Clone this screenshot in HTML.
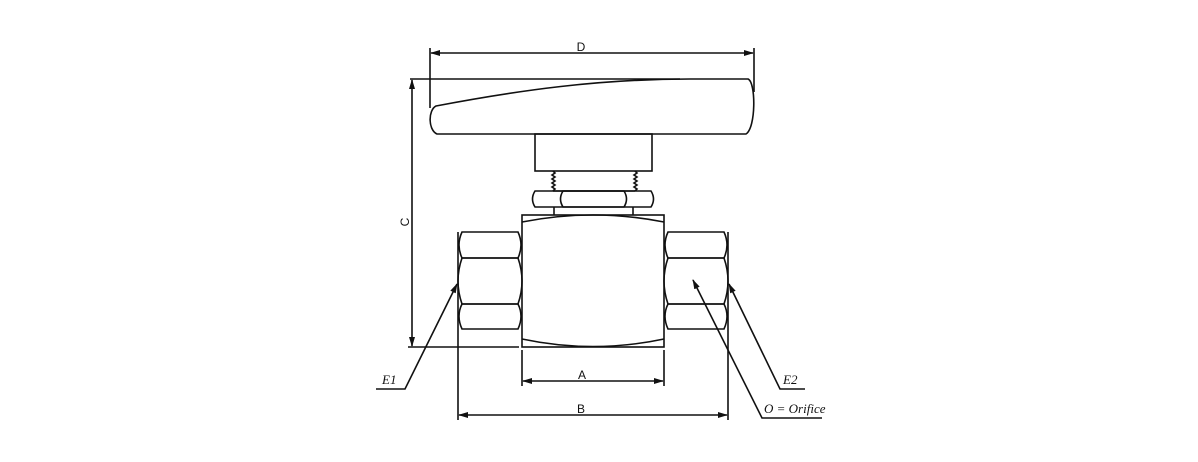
<!DOCTYPE html>
<html><head><style>
html,body{margin:0;padding:0;background:#fff;width:1198px;height:462px;overflow:hidden}
svg{display:block}
.s{font-family:"Liberation Sans",sans-serif;font-size:12px;fill:#111}
.i{font-family:"Liberation Serif",serif;font-style:italic;font-size:13px;fill:#111}
</style></head><body>
<svg width="1198" height="462" viewBox="0 0 1198 462" fill="none" stroke="#111" stroke-width="1.6">
<defs><marker id="a" markerWidth="10" markerHeight="6" refX="9" refY="3" orient="auto-start-reverse" markerUnits="userSpaceOnUse"><path d="M0,0 L10,3 L0,6 Z" fill="#111" stroke="none"/></marker></defs>
<!-- D -->
<line x1="430" y1="48" x2="430" y2="108"/><line x1="754" y1="48" x2="754" y2="92"/>
<line x1="431" y1="53" x2="753" y2="53" marker-start="url(#a)" marker-end="url(#a)"/>
<text x="581" y="51" class="s" stroke="none" text-anchor="middle">D</text>
<!-- handle -->
<line x1="410" y1="79" x2="680" y2="79"/>
<path d="M436,106 C520,90 600,79 690,79 L748,79 C756,82 756,128 746,134 L437,134 C428,130 428,110 436,106 Z"/>
<!-- stem -->
<rect x="535" y="134" width="117" height="37"/>
<path d="M553,171 l2,2 l-3,2 l3,2 l-3,2 l3,2 l-3,2 l3,2 l-3,2 l3,2 l-2,2"/>
<path d="M635,171 l2,2 l-3,2 l3,2 l-3,2 l3,2 l-3,2 l3,2 l-3,2 l3,2 l-2,2"/>
<line x1="553" y1="191" x2="635" y2="191"/>
<!-- nut -->
<path d="M535,191 L651,191 Q656,199 651,207 L535,207 Q530,199 535,191 Z"/>
<path d="M563,191 L624,191 Q629,199 624,207 L563,207 Q558,199 563,191 Z"/>
<line x1="554" y1="207" x2="554" y2="215"/><line x1="633" y1="207" x2="633" y2="215"/>
<!-- body -->
<rect x="522" y="215" width="142" height="132"/>
<path d="M522,222 Q593,208 664,222"/>
<path d="M522,339 Q593,354 664,339"/>
<!-- left hex -->
<g id="h">
<line x1="458" y1="232" x2="458" y2="420"/>
<path d="M462,232 L518,232 Q524,245 518,258 L462,258 Q456,245 462,232 Z"/>
<path d="M462,258 L518,258 Q526,281 518,304 L462,304 Q454,281 462,258 Z"/>
<path d="M462,304 L518,304 Q524,316 518,329 L462,329 Q456,316 462,304 Z"/>
</g>
<g transform="translate(1186,0) scale(-1,1)"><use href="#h"/></g>
<!-- C -->
<line x1="412" y1="80" x2="412" y2="346" marker-start="url(#a)" marker-end="url(#a)"/>
<line x1="408" y1="347" x2="519" y2="347"/>
<text transform="translate(409,222) rotate(-90)" class="s" stroke="none" text-anchor="middle">C</text>
<!-- A -->
<line x1="522" y1="350" x2="522" y2="386"/><line x1="664" y1="350" x2="664" y2="386"/>
<line x1="523" y1="381" x2="663" y2="381" marker-start="url(#a)" marker-end="url(#a)"/>
<text x="582" y="379" class="s" stroke="none" text-anchor="middle">A</text>
<!-- B -->
<line x1="459" y1="415" x2="727" y2="415" marker-start="url(#a)" marker-end="url(#a)"/>
<text x="581" y="413" class="s" stroke="none" text-anchor="middle">B</text>
<!-- leaders -->
<path d="M376,389 L405,389 L457,284" marker-end="url(#a)"/>
<text x="382" y="384" class="i" stroke="none">E1</text>
<path d="M805,389 L780,389 L729,284" marker-end="url(#a)"/>
<text x="783" y="384" class="i" stroke="none">E2</text>
<path d="M822,418 L762,418 L693,280" marker-end="url(#a)"/>
<text x="764" y="413" class="i" stroke="none">O = Orifice</text>
</svg>
</body></html>
